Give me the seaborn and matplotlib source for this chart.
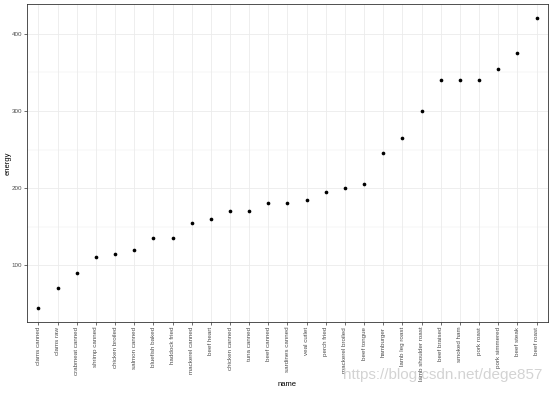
import matplotlib
matplotlib.use("Agg")
import matplotlib.pyplot as plt
import seaborn as sns
import pandas as pd

names = ["clams canned", "clams raw", "crabmeat canned", "shrimp canned", "chicken broiled",
         "salmon canned", "bluefish baked", "haddock fried", "mackerel canned", "beef heart",
         "chicken canned", "tuna canned", "beef canned", "sardines canned", "veal cutlet",
         "perch fried", "mackerel broiled", "beef tongue", "hamburger", "lamb leg roast",
         "lamb shoulder roast", "beef braised", "smoked ham", "pork roast", "pork simmered",
         "beef steak", "beef roast"]
energy = [45, 70, 90, 110, 115, 120, 135, 135, 155, 160, 170, 170, 180, 180, 185,
          195, 200, 205, 245, 265, 300, 340, 340, 340, 355, 375, 420]
yticks = [100, 200, 300, 400]

df = pd.DataFrame({"name": names, "energy": energy})

sns.set_theme(style="white")
plt.rcParams['font.family'] = ['Liberation Sans', 'DejaVu Sans']

fig = plt.figure(figsize=(5.54, 3.93), dpi=100)
ax = fig.add_axes([27/554, (393-322)/393, (548-27)/554, (322-4)/393])

sns.scatterplot(data=df, x="name", y="energy", ax=ax, color="black", s=7,
                edgecolor="black", linewidth=0, zorder=3)

n = len(names)
ax.set_xlim(-0.6, n - 1 + 0.6)
rng = max(energy) - min(energy)
ax.set_ylim(min(energy) - 0.05 * rng, max(energy) + 0.05 * rng)
ax.set_yticks(yticks)
ax.set_yticks([150, 250, 350], minor=True)
ax.set_xticks(range(n))
ax.set_xticklabels(names, rotation=90, fontsize=4.5, color="#4d4d4d")
ax.tick_params(axis="y", labelsize=4.5, labelcolor="#4d4d4d")
ax.tick_params(axis="both", which="major", length=2, width=0.5, color="#333333",
               bottom=True, left=True, pad=1.5)
ax.tick_params(axis="y", which="minor", length=0)
ax.grid(True, which="major", color="#ebebeb", linewidth=0.6)
ax.grid(True, which="minor", axis="y", color="#ebebeb", linewidth=0.3)
ax.set_axisbelow(True)
for sp in ax.spines.values():
    sp.set_color("#333333")
    sp.set_linewidth(0.6)
ax.set_xlabel("name", fontsize=5.5, color="black")
ax.set_ylabel("energy", fontsize=5.5, color="black")
ax.xaxis.set_label_coords(0.5, (322 - 384) / 318, transform=ax.transAxes)
ax.yaxis.set_label_coords((8 - 27) / 521, 0.5, transform=ax.transAxes)
ax.xaxis.label.set_va("center")
ax.yaxis.label.set_va("center")

fig.text(443 / 554, 1 - 375 / 393, "https://blog.csdn.net/dege857", fontsize=11,
         color="#cccccc", ha="center", va="center", alpha=0.85)

fig.savefig("out.png", dpi=100)
